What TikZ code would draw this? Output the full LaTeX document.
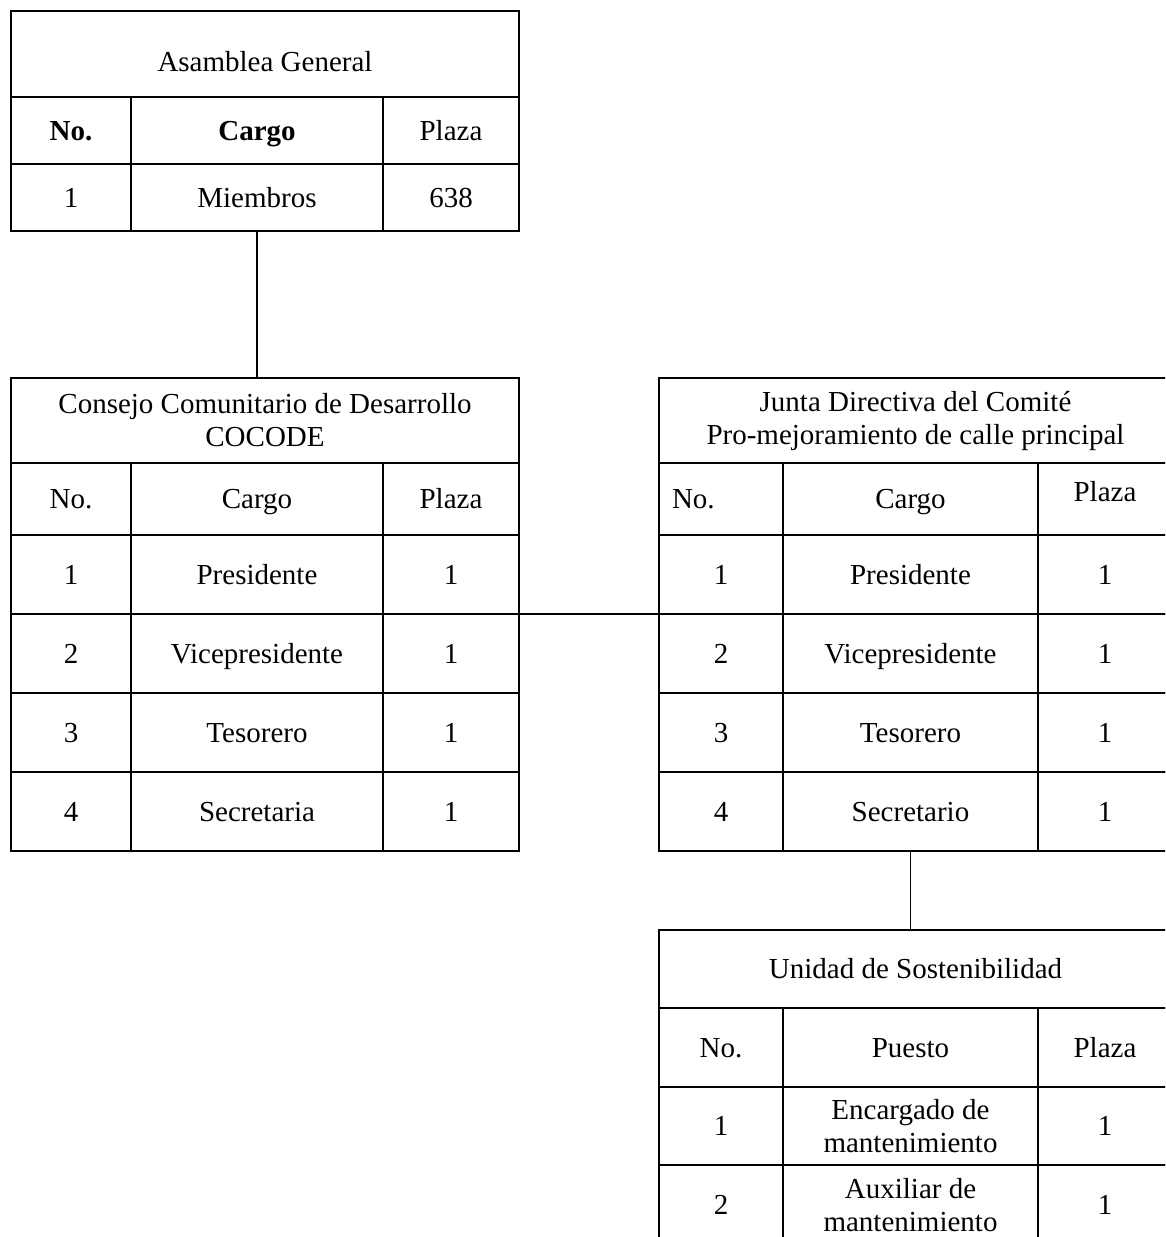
\documentclass[tikz,border=0pt]{standalone}
\usepackage{fontspec}
\setmainfont{Liberation Serif}
\tikzset{
  cell/.style={draw=black, line width=1.3pt, inner sep=0pt, outer sep=0pt, align=center,
    font=\fontsize{29}{33}\selectfont},
  one/.style={text height=19pt, text depth=0pt},
  link/.style={draw=black, line width=1.3pt}
}
\newcommand\mycell[7][one]{%
  \node[cell, minimum width={(#4-#2)*1pt}, minimum height={(#5-#3)*1pt}, #1]
    (#6) at ({(#2+#4)/2},{(#3+#5)/2}) {#7};}
\begin{document}
\begin{tikzpicture}[x=1pt,y=-1pt]
\useasboundingbox (0,0) rectangle (1165,1237);
\clip (0,0) rectangle (1165,1237);
% Table A
\mycell{11}{11}{519}{97}{aT}{\raisebox{-8pt}{Asamblea General}}
\mycell{11}{97}{131}{164}{a1}{\textbf{No.}}
\mycell{131}{97}{383}{164}{a2}{\textbf{Cargo}}
\mycell{383}{97}{519}{164}{a3}{Plaza}
\mycell{11}{164}{131}{231}{a4}{1}
\mycell{131}{164}{383}{231}{a5}{Miembros}
\mycell{383}{164}{519}{231}{a6}{638}
% Table B
\mycell[]{11}{378}{519}{463}{bT}{Consejo Comunitario de Desarrollo\\COCODE}
\mycell{11}{463}{131}{535}{b1}{No.}
\mycell{131}{463}{383}{535}{b2}{Cargo}
\mycell{383}{463}{519}{535}{b3}{Plaza}
\mycell{11}{535}{131}{614}{b4}{1}
\mycell{131}{535}{383}{614}{b5}{Presidente}
\mycell{383}{535}{519}{614}{b6}{1}
\mycell{11}{614}{131}{693}{b7}{2}
\mycell{131}{614}{383}{693}{b8}{Vicepresidente}
\mycell{383}{614}{519}{693}{b9}{1}
\mycell{11}{693}{131}{772}{b10}{3}
\mycell{131}{693}{383}{772}{b11}{Tesorero}
\mycell{383}{693}{519}{772}{b12}{1}
\mycell{11}{772}{131}{851}{b13}{4}
\mycell{131}{772}{383}{851}{b14}{Secretaria}
\mycell{383}{772}{519}{851}{b15}{1}
% Table C
\mycell[]{659}{378}{1172}{463}{cT}{Junta Directiva del Comité\\Pro-mejoramiento de calle principal}
\mycell[one, text width=98pt, align=left]{659}{463}{783}{535}{c1}{No.}
\mycell{783}{463}{1038}{535}{c2}{Cargo}
\mycell{1038}{463}{1172}{535}{c3}{\raisebox{7pt}{Plaza}}
\mycell{659}{535}{783}{614}{c4}{1}
\mycell{783}{535}{1038}{614}{c5}{Presidente}
\mycell{1038}{535}{1172}{614}{c6}{1}
\mycell{659}{614}{783}{693}{c7}{2}
\mycell{783}{614}{1038}{693}{c8}{Vicepresidente}
\mycell{1038}{614}{1172}{693}{c9}{1}
\mycell{659}{693}{783}{772}{c10}{3}
\mycell{783}{693}{1038}{772}{c11}{Tesorero}
\mycell{1038}{693}{1172}{772}{c12}{1}
\mycell{659}{772}{783}{851}{c13}{4}
\mycell{783}{772}{1038}{851}{c14}{Secretario}
\mycell{1038}{772}{1172}{851}{c15}{1}
% Table D
\mycell{659}{930}{1172}{1008}{dT}{Unidad de Sostenibilidad}
\mycell{659}{1008}{783}{1087}{d1}{No.}
\mycell{783}{1008}{1038}{1087}{d2}{Puesto}
\mycell{1038}{1008}{1172}{1087}{d3}{Plaza}
\mycell{659}{1087}{783}{1165}{d4}{1}
\mycell[]{783}{1087}{1038}{1165}{d5}{Encargado de\\mantenimiento}
\mycell{1038}{1087}{1172}{1165}{d6}{1}
\mycell{659}{1165}{783}{1245}{d7}{2}
\mycell[]{783}{1165}{1038}{1245}{d8}{Auxiliar de\\mantenimiento}
\mycell{1038}{1165}{1172}{1245}{d9}{1}
% connectors
\draw[link] (a5.south) -- (a5.south |- bT.north);
\draw[link] (b6.south east) -- (c4.south west);
\draw[link] (c14.south) -- (c14.south |- dT.north);
\end{tikzpicture}
\end{document}
